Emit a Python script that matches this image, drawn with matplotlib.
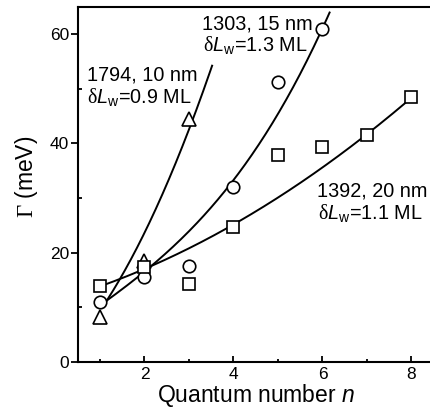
import numpy as np
import matplotlib
matplotlib.use("Agg")
import matplotlib.pyplot as plt

plt.rcParams["font.family"] = ["Liberation Sans", "DejaVu Sans"]
plt.rcParams["mathtext.fontset"] = "custom"
plt.rcParams["mathtext.rm"] = "Liberation Serif"
plt.rcParams["mathtext.it"] = "Liberation Sans:italic"
plt.rcParams["mathtext.sf"] = "Liberation Sans"

# measured linewidths, sample 1794 (10 nm)
n_1794 = [1, 2, 3]
g_1794 = [8.2, 18.5, 44.5]
# sample 1303 (15 nm)
n_1303 = [1, 2, 3, 4, 5, 6]
g_1303 = [10.9, 15.6, 17.5, 32.1, 51.2, 61.0]
# sample 1392 (20 nm)
n_1392 = [1, 2, 3, 4, 5, 6, 7, 8]
g_1392 = [13.9, 17.3, 14.3, 24.7, 37.8, 39.4, 41.5, 48.5]

# fit curves, points
fit_x_1794 = [1.05, 1.65, 2.51, 3.03, 3.52]
fit_y_1794 = [10.6, 16.7, 33.0, 44.3, 53.5]
fit_x_1303 = [1.05, 2.17, 3.7, 4.78, 6.16]
fit_y_1303 = [10.6, 17.6, 30.3, 42.4, 64.0]
fit_x_1392 = [1.05, 2.17, 3.7, 4.52, 7.0, 8.0]
fit_y_1392 = [13.9, 17.6, 23.9, 27.6, 41.5, 48.5]


def smooth(xs, ys, deg):
    c = np.polyfit(xs, ys, deg)
    xx = np.linspace(xs[0], xs[-1], 200)
    return xx, np.polyval(c, xx)


fig = plt.figure(figsize=(4.3, 4.11), dpi=100)
ax = fig.add_axes([0.1807, 0.12, 0.828, 0.863])

for fx, fy, deg in [(fit_x_1794, fit_y_1794, 2),
                    (fit_x_1303, fit_y_1303, 3),
                    (fit_x_1392, fit_y_1392, 2)]:
    xx, yy = smooth(fx, fy, deg)
    ax.plot(xx, yy, color="black", lw=1.4, zorder=2)

mk = dict(mfc="white", mec="black", mew=1.2, ls="none", zorder=3)
ax.plot(n_1794, g_1794, marker="^", ms=10, **mk)
ax.plot(n_1303, g_1303, marker="o", ms=9, **mk)
ax.plot(n_1392, g_1392, marker="s", ms=8.5, **mk)

fs = 14.3
dl = r"$\mathrm{\delta}\mathit{L}_\mathsf{w}$"
ax.text(0.72, 51.6, "1794, 10 nm", fontsize=fs, va="baseline")
ax.text(0.72, 47.2, dl + "=0.9 ML", fontsize=fs, va="baseline")
ax.text(3.29, 60.9, "1303, 15 nm", fontsize=fs, va="baseline")
ax.text(3.32, 56.8, dl + "=1.3 ML", fontsize=fs, va="baseline")
ax.text(5.87, 30.2, "1392, 20 nm", fontsize=fs, va="baseline")
ax.text(5.90, 26.1, dl + "=1.1 ML", fontsize=fs, va="baseline")

ax.set_xlim(0.5, 8.5)
ax.set_ylim(0, 65)
ax.set_xticks([2, 4, 6, 8])
ax.set_xticks([1, 3, 5, 7], minor=True)
ax.set_yticks([0, 20, 40, 60])
ax.set_yticks([10, 30, 50], minor=True)
ax.tick_params(axis="x", which="major", direction="in", length=4, width=1.3,
               labelsize=12.5, pad=4)
ax.tick_params(axis="x", which="minor", direction="in", length=2.5, width=1.3)
ax.tick_params(axis="y", which="major", direction="out", length=5, width=1.3,
               labelsize=12.5, pad=1)
ax.tick_params(axis="y", which="minor", direction="in", length=3, width=1.3)
for s in ax.spines.values():
    s.set_linewidth(1.5)

ax.set_xlabel(r"Quantum number $\mathit{n}$", fontsize=16.5, labelpad=0)
ax.set_ylabel(r"$\mathrm{\Gamma}$ (meV)", fontsize=16.5)
ax.yaxis.set_label_coords(-0.105, 0.52)

fig.savefig("out.png", dpi=100)
